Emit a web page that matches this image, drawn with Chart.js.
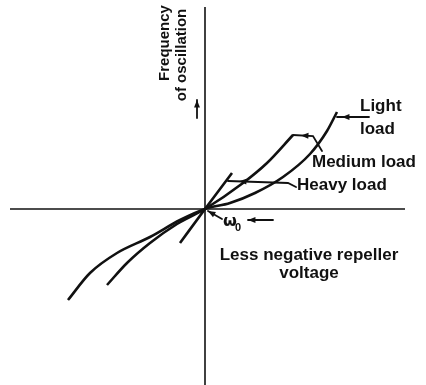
<!DOCTYPE html>
<html>
<head>
<meta charset="utf-8">
<script src="https://cdn.jsdelivr.net/npm/chart.js@4.4.1/dist/chart.umd.min.js"></script>
<style>
  html, body { margin: 0; padding: 0; background: #fff; }
</style>
</head>
<body>
<canvas id="chart" width="426" height="385"></canvas>
<script>
// Reflex klystron: frequency of oscillation vs. repeller voltage for three loads.
// Units are arbitrary; origin is the centre of the mode (omega_0).
const lightX = [-13.7, -11.5, -8.8, -5.5, -2.5, 0, 2.5, 5.0, 7.8, 10.5, 12.2, 13.2];
const lightY = [-9.1, -6.4, -4.4, -2.8, -1.1, 0, 0.6, 1.6, 3.2, 5.5, 7.8, 9.7];

const mediumX = [-9.8, -7.8, -5.5, -2.8, 0, 3.8, 6.2, 8.8];
const mediumY = [-7.6, -5.4, -3.4, -1.5, 0, 2.6, 4.6, 7.4];

const heavyX = [-2.5, 0, 2.7];
const heavyY = [-3.4, 0, 3.6];

const xRange = [-19.5, 20];
const yRange = [-17.6, 20.2];

function pts(xs, ys) {
    return xs.map((x, i) => ({ x: x, y: ys[i] }));
}

const ink = '#111';

function curve(data) {
    return {
        data: data,
        showLine: true,
        borderColor: ink,
        borderWidth: 2.6,
        pointRadius: 0,
        tension: 0.4,
        cubicInterpolationMode: 'monotone',
        fill: false
    };
}

function axisLine(data) {
    return {
        data: data,
        showLine: true,
        borderColor: ink,
        borderWidth: 1.6,
        pointRadius: 0,
        tension: 0,
        fill: false
    };
}

// leader lines (data units); head 0 = arrow at first point, 1 = at last point,
// inset = how far (px) the arrow tip sits back along the first segment
const leaders = [
    { path: [[13.2, 9.2], [16.4, 9.2]], head: 0, inset: 5 },
    { path: [[8.8, 7.4], [10.8, 7.3], [11.7, 5.8]], head: 0, inset: 8 },
    { path: [[2.3, 2.8], [8.3, 2.6], [9.1, 2.2]], head: 0, inset: 11 },
    { path: [[1.7, -1.0], [0.3, -0.2]], head: 1, inset: 0 },
    { path: [[4.3, -1.1], [6.8, -1.1]], head: 0, inset: 0 },
    { path: [[-0.8, 9.1], [-0.8, 10.9]], head: 1, inset: 0 }
];

const texts = [
    { t: 'Light', x: 15.5, y: 10.3, align: 'left' },
    { t: 'load', x: 15.5, y: 8.0, align: 'left' },
    { t: 'Medium load', x: 10.7, y: 4.7, align: 'left' },
    { t: 'Heavy load', x: 9.2, y: 2.4, align: 'left' },
    { t: 'Less negative repeller', x: 10.4, y: -4.6, align: 'center' },
    { t: 'voltage', x: 10.4, y: -6.4, align: 'center' }
];

const yTitle = [
    { t: 'Frequency', x: -4.0, y: 16.6 },
    { t: 'of oscillation', x: -2.3, y: 15.4 }
];

function arrowHead(ctx, tx, ty, fx, fy, size) {
    const a = Math.atan2(ty - fy, tx - fx);
    ctx.beginPath();
    ctx.moveTo(tx, ty);
    ctx.lineTo(tx - size * Math.cos(a - 0.38), ty - size * Math.sin(a - 0.38));
    ctx.lineTo(tx - size * Math.cos(a + 0.38), ty - size * Math.sin(a + 0.38));
    ctx.closePath();
    ctx.fill();
}

const notes = {
    id: 'notes',
    afterDatasetsDraw(chart) {
        const ctx = chart.ctx;
        const sx = chart.scales.x, sy = chart.scales.y;
        const px = v => sx.getPixelForValue(v);
        const py = v => sy.getPixelForValue(v);
        ctx.save();
        ctx.strokeStyle = ink;
        ctx.fillStyle = ink;
        ctx.lineWidth = 1.8;
        ctx.lineCap = 'round';
        leaders.forEach(l => {
            ctx.beginPath();
            l.path.forEach((p, i) => {
                if (i === 0) ctx.moveTo(px(p[0]), py(p[1]));
                else ctx.lineTo(px(p[0]), py(p[1]));
            });
            ctx.stroke();
            const n = l.path.length;
            const tip = l.head === 0 ? l.path[0] : l.path[n - 1];
            const from = l.head === 0 ? l.path[1] : l.path[n - 2];
            let tx = px(tip[0]), ty = py(tip[1]);
            const fx = px(from[0]), fy = py(from[1]);
            const len = Math.hypot(fx - tx, fy - ty);
            tx += (fx - tx) * l.inset / len;
            ty += (fy - ty) * l.inset / len;
            arrowHead(ctx, tx, ty, fx, fy, 8);
        });

        ctx.font = 'bold 17px "Liberation Sans", Arial, sans-serif';
        ctx.textBaseline = 'middle';
        texts.forEach(s => {
            ctx.textAlign = s.align;
            ctx.fillText(s.t, px(s.x), py(s.y));
        });

        // omega_0 at the crossing point
        ctx.textAlign = 'left';
        ctx.font = 'bold 16px "DejaVu Sans", sans-serif';
        ctx.fillText('ω', px(1.8), py(-1.3));
        ctx.font = 'bold 11px "Liberation Sans", Arial, sans-serif';
        ctx.fillText('0', px(3.0), py(-1.9));

        ctx.font = 'bold 15px "Liberation Sans", Arial, sans-serif';
        ctx.textAlign = 'center';
        yTitle.forEach(s => {
            ctx.save();
            ctx.translate(px(s.x), py(s.y));
            ctx.rotate(-Math.PI / 2);
            ctx.fillText(s.t, 0, 0);
            ctx.restore();
        });
        ctx.restore();
    }
};

new Chart(document.getElementById('chart'), {
    type: 'scatter',
    data: {
        datasets: [
            axisLine([{ x: xRange[0], y: 0 }, { x: xRange[1], y: 0 }]),
            axisLine([{ x: 0, y: yRange[0] }, { x: 0, y: yRange[1] }]),
            curve(pts(lightX, lightY)),
            curve(pts(mediumX, mediumY)),
            curve(pts(heavyX, heavyY))
        ]
    },
    options: {
        responsive: false,
        animation: false,
        devicePixelRatio: 1,
        layout: { padding: { left: 10, right: 21, top: 7, bottom: 0 } },
        plugins: { legend: { display: false }, tooltip: { enabled: false } },
        scales: {
            x: { type: 'linear', display: false, min: xRange[0], max: xRange[1] },
            y: { type: 'linear', display: false, min: yRange[0], max: yRange[1] }
        }
    },
    plugins: [notes]
});
</script>
</body>
</html>
